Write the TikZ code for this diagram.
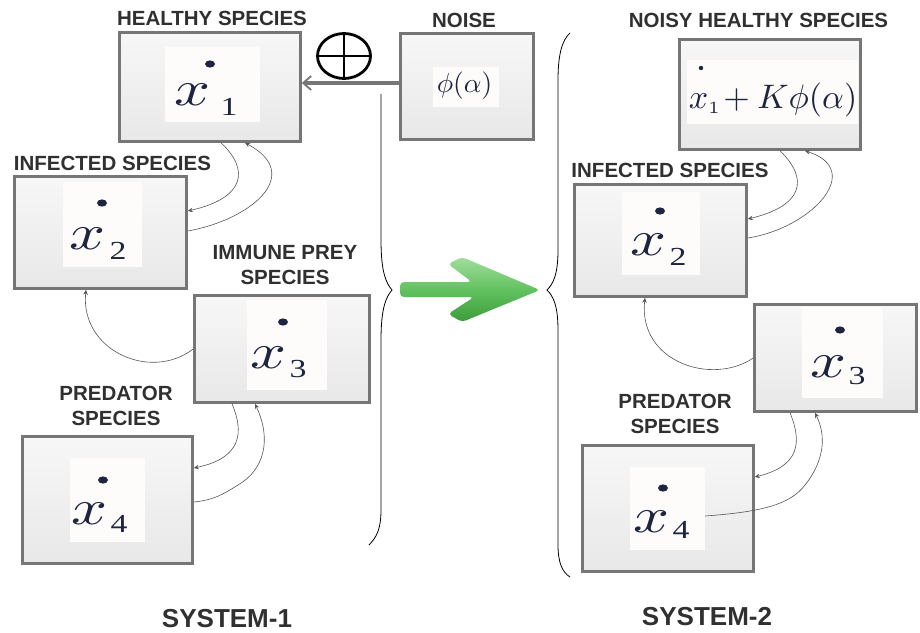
\documentclass[tikz,border=0pt]{standalone}
\usepackage{fontspec}
\newfontfamily\labfont{Liberation Sans}
\newfontfamily\tms{Liberation Serif}
\usetikzlibrary{arrows.meta,calc,shapes.geometric}
\definecolor{txt}{HTML}{303030}
\definecolor{boxgray}{HTML}{767676}
\definecolor{boxtop}{HTML}{F7F7F7}
\definecolor{boxbot}{HTML}{E8E8E8}
\definecolor{inwhite}{HTML}{FDFCFA}
\definecolor{glyph}{HTML}{1E2540}
\definecolor{linkc}{HTML}{555555}
\definecolor{grtop}{HTML}{A2DE9C}
\definecolor{grmid}{HTML}{62C260}
\definecolor{grbot}{HTML}{3C9C3B}
\newcommand{\xglyph}{\scalebox{6.3}[5]{$x$}}
\newcommand{\subd}[1]{\scalebox{1.3}[1]{#1}}
\begin{document}
\begin{tikzpicture}[x=1pt,y=-1pt,
  box/.style={draw=boxgray, line width=2.6pt, top color=boxtop, bottom color=boxbot, inner sep=0pt},
  inbox/.style={fill=inwhite, inner sep=0pt},
  lab/.style={font=\labfont\bfseries\fontsize{20.5}{25}\selectfont, text=txt, align=center, inner sep=0pt},
  sys/.style={font=\labfont\bfseries\fontsize{26}{30}\selectfont, text=txt, inner sep=0pt},
  xg/.style={text=glyph, inner sep=0pt},
  subg/.style={font=\tms\fontsize{26}{28}\selectfont, text=glyph, inner sep=0pt},
  link/.style={draw=linkc, line width=0.6pt, -{Stealth[length=5pt,width=4.5pt]}},
  bigline/.style={draw=boxgray, line width=3.2pt, -{Straight Barb[length=8pt,width=14pt,line width=1.8pt]}},
  bracec/.style={draw=black, line width=0.8pt}
]
\useasboundingbox (0,0) rectangle (920,632);

% ---------- SYSTEM 1 boxes ----------
\node[box, minimum width=181pt, minimum height=109pt] (b1) at (210,87) {};
\node[box, minimum width=133pt, minimum height=106pt] (noise) at (467,86.5) {};
\node[box, minimum width=172pt, minimum height=112pt] (b2) at (100.5,232.5) {};
\node[box, minimum width=175pt, minimum height=107pt] (b3) at (282,349) {};
\node[box, minimum width=170pt, minimum height=127pt] (b4) at (107.5,500) {};

% inner contents
\node[inbox, minimum width=95pt, minimum height=75pt] (b1in) at (212.5,84.5) {};
\fill[glyph] (210,64) ellipse (5pt and 3.6pt);
\node[xg] (b1x) at (192.5,95) {\xglyph};
\node[subg] (b1s) at (229,106.5) {\subd{1}};

\node[inbox, minimum width=79pt, minimum height=85pt] (b2in) at (102.5,224.5) {};
\fill[glyph] (102,203) ellipse (5pt and 3.6pt);
\node[xg] (b2x) at (88,239) {\xglyph};
\node[subg] (b2s) at (118,251) {\subd{2}};

\node[inbox, minimum width=80pt, minimum height=90pt] (b3in) at (287,345) {};
\fill[glyph] (283,322) ellipse (5pt and 3.6pt);
\node[xg] (b3x) at (268.5,357.5) {\xglyph};
\node[subg] (b3s) at (298,369) {\subd{3}};

\node[inbox, minimum width=75pt, minimum height=84pt] (b4in) at (107.5,500) {};
\fill[glyph] (103,480) ellipse (5pt and 3.6pt);
\node[xg] (b4x) at (89.5,514) {\xglyph};
\node[subg] (b4s) at (119,524) {\subd{4}};

\node[inbox, minimum width=66pt, minimum height=40pt] (nin) at (466,87) {};
\node[xg] (nf) at (464.5,86) {\scalebox{2.75}{$\phi(\alpha)$}};

% labels
\node[lab, anchor=base] (l1) at (212,25) {HEALTHY SPECIES};
\node[lab, anchor=base] (ln) at (464,27) {NOISE};
\node[lab, anchor=base] (l2) at (112.5,170) {INFECTED SPECIES};
\node[lab] (l3) at (285,265) {IMMUNE PREY\\SPECIES};
\node[lab] (l4) at (116,406) {PREDATOR\\SPECIES};
\node[sys, anchor=base] (s1) at (227,627) {SYSTEM-1};

% oplus and noise arrow
\node[ellipse, draw=black, line width=2.8pt, minimum width=53pt, minimum height=45pt, inner sep=0pt] (op) at (344,56) {};
\draw[line width=2pt] (op.north) -- (op.south) (op.west) -- (op.east);
\draw[bigline] ([yshift=3.5pt]noise.west) -- ([yshift=4pt]b1.east);

% connectors system 1
\draw[link] ([xshift=11pt]b1.south) .. controls (250,170) and (245,198) .. ([yshift=21.5pt]b2.east);
\draw[link] ([yshift=1.5pt]b2.east) .. controls (250,220) and (305,175) .. ([xshift=35pt]b1.south);
\draw[link] (b3.west) .. controls (150,382) and (80,350) .. ([xshift=-14.5pt]b2.south);
\draw[link] ([xshift=-50pt]b3.south) .. controls (244,432) and (242,458) .. ([yshift=32pt]b4.east);
\draw[link] ([yshift=-2pt]b4.east) .. controls (215,500) and (225,493) .. (238,485) .. controls (264,470) and (272,440) .. ([xshift=-27pt]b3.south);

% brace 1
\draw[bracec] (381,94) -- (381,240) .. controls (381,272) and (386,283) .. (392,290) .. controls (386,297) and (381,308) .. (381,340) -- (381,510) .. controls (381,528) and (377,537) .. (369,545);

% green arrow
\shade[top color=grtop, bottom color=grbot, middle color=grmid, rounded corners=4pt]
  (400,282) -- (472,282) -- (448,264) -- (462,257) -- (540,290) -- (462,322) -- (448,314) -- (474,297) -- (400,297) -- cycle;

% brace 2
\draw[bracec] (570,33) .. controls (562,40) and (558,55) .. (558,80) -- (558,250) .. controls (558,275) and (553,284) .. (547,290) .. controls (553,296) and (558,305) .. (558,330) -- (558,545) .. controls (558,562) and (562,572) .. (570,577);

% ---------- SYSTEM 2 boxes ----------
\node[box, minimum width=181pt, minimum height=110pt] (r1) at (770,94.5) {};
\node[box, minimum width=172pt, minimum height=112pt] (r2) at (660.5,240.5) {};
\node[box, minimum width=162pt, minimum height=107pt] (r3) at (835.5,358) {};
\node[box, minimum width=171pt, minimum height=126pt] (r4) at (668,508.5) {};

\node[inbox, minimum width=171pt, minimum height=64pt] (r1in) at (772.5,92) {};
\fill[glyph] (701,68) circle (2.2pt);
\node[xg, anchor=base] (r1f) at (773,108) {\scalebox{3.4}{$x_{\scriptscriptstyle 1}\!+K\phi(\alpha)$}};

\node[inbox, minimum width=78pt, minimum height=83pt] (r2in) at (661,233.5) {};
\fill[glyph] (660,211) ellipse (5pt and 3.6pt);
\node[xg] (r2x) at (648,245) {\xglyph};
\node[subg] (r2s) at (678,257) {\subd{2}};

\node[inbox, minimum width=81pt, minimum height=91pt] (r3in) at (842.5,352.5) {};
\fill[glyph] (840,330) ellipse (5pt and 3.6pt);
\node[xg] (r3x) at (828,367) {\xglyph};
\node[subg] (r3s) at (857,376) {\subd{3}};

\node[inbox, minimum width=75pt, minimum height=83pt] (r4in) at (667.5,508.5) {};
\fill[glyph] (663,488) ellipse (5pt and 3.6pt);
\node[xg] (r4x) at (651,522) {\xglyph};
\node[subg] (r4s) at (681,530) {\subd{4}};

% labels
\node[lab, anchor=base] (rl1) at (758.5,27) {NOISY HEALTHY SPECIES};
\node[lab, anchor=base] (rl2) at (670,177) {INFECTED SPECIES};
\node[lab] (rl4) at (675,414) {PREDATOR\\SPECIES};
\node[sys, anchor=base] (s2) at (707,625) {SYSTEM-2};

% connectors system 2
\draw[link] ([xshift=10pt]r1.south) .. controls (810,180) and (802,206) .. ([yshift=21.5pt]r2.east);
\draw[link] ([yshift=2.5pt]r2.east) .. controls (812,228) and (865,170) .. ([xshift=35pt]r1.south);
\draw[link] (r3.west) .. controls (712,386) and (638,362) .. ([xshift=-15.5pt]r2.south);
\draw[link] ([xshift=-45.5pt]r3.south) .. controls (802,442) and (800,466) .. ([yshift=31.5pt]r4.east);
\draw[link] ([xshift=37pt,yshift=-7.5pt]r4.center) .. controls (760,512) and (790,505) .. (805,485) .. controls (825,460) and (826,435) .. ([xshift=-20.5pt]r3.south);
\end{tikzpicture}
\end{document}
